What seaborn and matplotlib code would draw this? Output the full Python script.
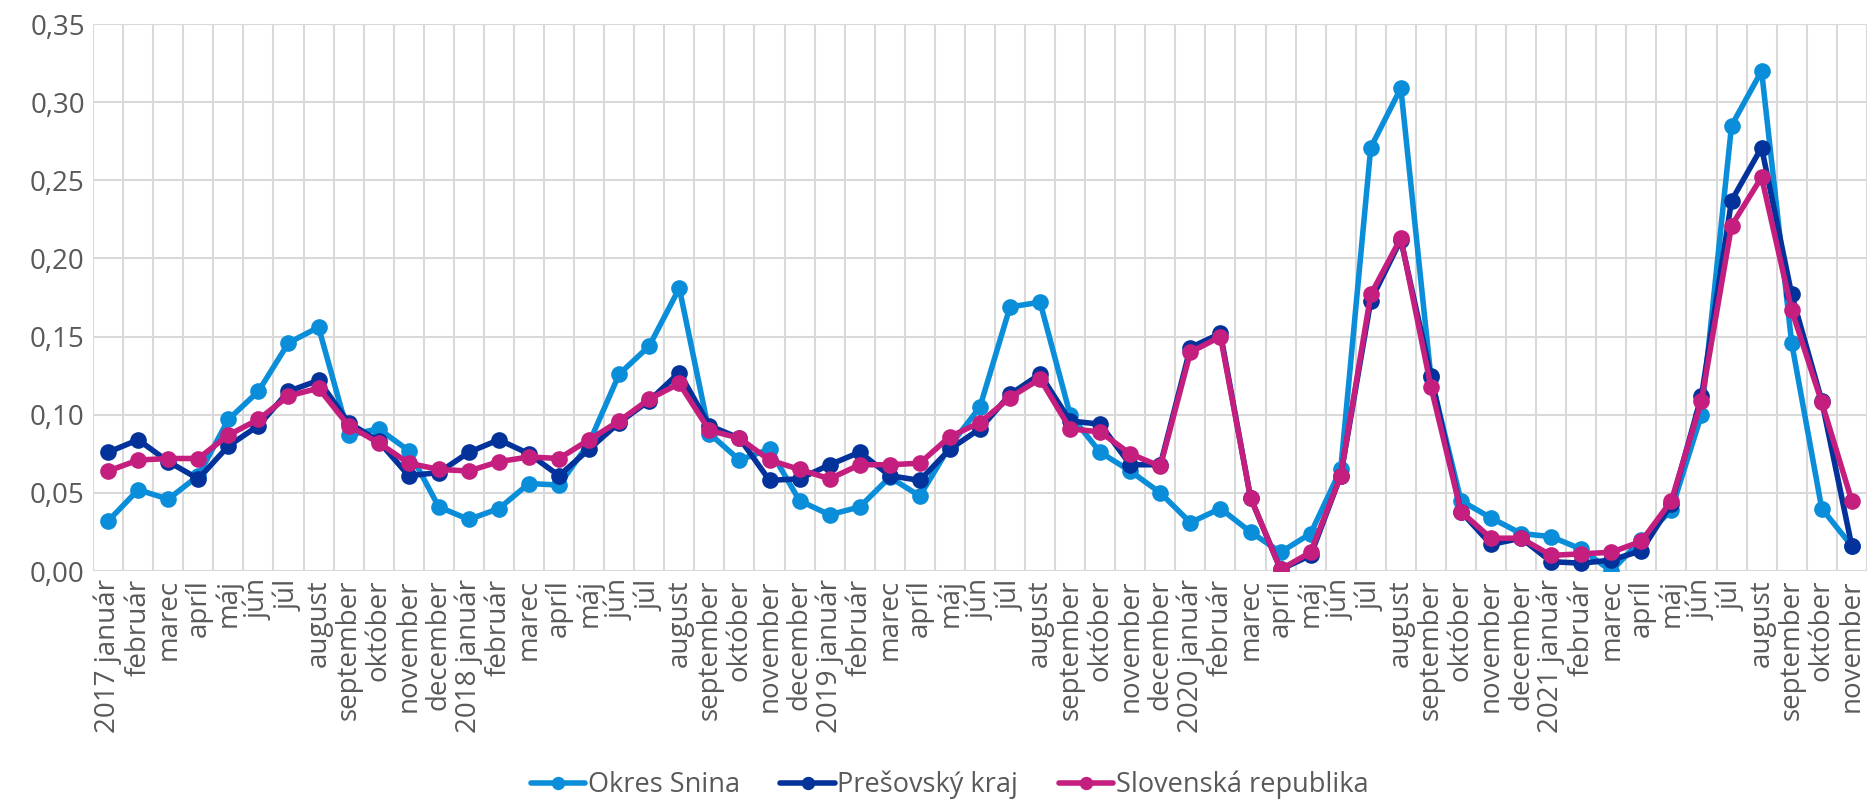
import matplotlib
matplotlib.use("Agg")
import matplotlib.pyplot as plt
import numpy as np
import pandas as pd
import seaborn as sns

# month labels, 2017 január .. 2021 november
months = ["január", "február", "marec", "apríl", "máj", "jún", "júl", "august",
          "september", "október", "november", "december"]
labels = []
for y in [2017, 2018, 2019, 2020, 2021]:
    for i, m in enumerate(months):
        if y == 2021 and i > 10:
            break
        labels.append(f"{y} {m}" if i == 0 else m)

snina = [0.032, 0.052, 0.046, 0.061, 0.097, 0.115, 0.146, 0.156, 0.087, 0.091, 0.077, 0.041,
         0.033, 0.040, 0.056, 0.055, 0.082, 0.126, 0.144, 0.181, 0.088, 0.071, 0.078, 0.045,
         0.036, 0.041, 0.060, 0.048, 0.080, 0.105, 0.169, 0.172, 0.100, 0.076, 0.064, 0.050,
         0.031, 0.040, 0.025, 0.012, 0.024, 0.065, 0.271, 0.309, 0.124, 0.045, 0.034, 0.024,
         0.022, 0.014, 0.000, 0.020, 0.039, 0.100, 0.285, 0.320, 0.146, 0.040, 0.016]
presov = [0.076, 0.084, 0.070, 0.059, 0.080, 0.093, 0.115, 0.122, 0.095, 0.083, 0.061, 0.063,
          0.076, 0.084, 0.075, 0.061, 0.078, 0.095, 0.109, 0.127, 0.093, 0.085, 0.058, 0.059,
          0.068, 0.076, 0.061, 0.058, 0.078, 0.091, 0.113, 0.126, 0.096, 0.094, 0.068, 0.068,
          0.143, 0.152, 0.047, 0.001, 0.010, 0.061, 0.173, 0.212, 0.125, 0.038, 0.017, 0.021,
          0.006, 0.005, 0.007, 0.013, 0.043, 0.112, 0.237, 0.271, 0.177, 0.109, 0.016]
slovensko = [0.064, 0.071, 0.072, 0.072, 0.087, 0.097, 0.112, 0.117, 0.093, 0.082, 0.069, 0.065,
             0.064, 0.070, 0.073, 0.072, 0.084, 0.096, 0.110, 0.120, 0.090, 0.085, 0.071, 0.065,
             0.059, 0.068, 0.068, 0.069, 0.086, 0.095, 0.111, 0.123, 0.091, 0.089, 0.075, 0.067,
             0.140, 0.150, 0.047, 0.001, 0.012, 0.061, 0.177, 0.213, 0.118, 0.038, 0.021, 0.021,
             0.010, 0.011, 0.012, 0.019, 0.045, 0.109, 0.221, 0.252, 0.167, 0.108, 0.045]

series = ["Okres Snina", "Prešovský kraj", "Slovenská republika"]
colors = ["#0B8ED9", "#03329A", "#C41E7F"]

x = np.arange(len(labels))
df = pd.DataFrame({
    "x": np.tile(x, 3),
    "value": snina + presov + slovensko,
    "series": np.repeat(series, len(labels)),
})

sns.set_style("white")
plt.rcParams['font.family'] = ['Open Sans', 'DejaVu Sans']

fig = plt.figure(figsize=(18.73, 8.02), dpi=100)
ax = fig.add_axes([0.0497, 0.288, 0.947, 0.682])

sns.lineplot(data=df, x="x", y="value", hue="series", hue_order=series,
             palette=colors, marker="o", markersize=12, markeredgewidth=0,
             linewidth=4, ax=ax, legend=True)

ax.set_xlim(-0.5, len(labels) - 0.5)
ax.set_ylim(0, 0.35)
ax.set_yticks(np.arange(0, 0.351, 0.05))
ax.set_yticklabels([f"{v:.2f}".replace(".", ",") for v in np.arange(0, 0.351, 0.05)])
ax.set_xticks(x)
ax.set_xticklabels(labels, rotation=90)
ax.set_xticks(np.arange(-0.5, len(labels), 1), minor=True)
ax.grid(False)
ax.grid(axis="y", which="major", color="#D9D9D9", linewidth=1.5)
ax.grid(axis="x", which="minor", color="#D9D9D9", linewidth=1.5)
ax.set_axisbelow(True)
ax.tick_params(axis="both", which="both", length=0, labelsize=20, colors="#595959", pad=6)
for s in ax.spines.values():
    s.set_visible(False)
ax.set_xlabel("")
ax.set_ylabel("")

handles, lbls = ax.get_legend_handles_labels()
ax.legend(handles, lbls, loc="center", bbox_to_anchor=(0.507, 0.021),
          bbox_transform=fig.transFigure, ncol=3, frameon=False, fontsize=19.5,
          labelcolor="#595959", handlelength=2.0, handletextpad=0.1, columnspacing=1.5,
          markerscale=0.8)

fig.savefig("out.png", dpi=100)
